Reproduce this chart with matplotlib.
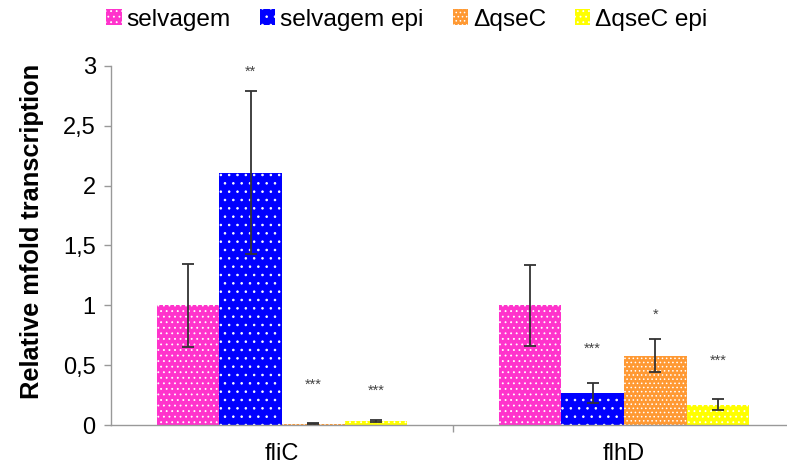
import matplotlib
matplotlib.use("Agg")
import matplotlib.pyplot as plt
from matplotlib.patches import Patch
import numpy as np

plt.rcParams['font.family'] = ['Liberation Sans', 'DejaVu Sans']
plt.rcParams['hatch.linewidth'] = 0.6

genes = ["fliC", "flhD"]
strains = ["selvagem", "selvagem epi", "\u0394qseC", "\u0394qseC epi"]

# values per strain: [fliC, flhD]
means = {
    "selvagem":       [1.00, 1.00],
    "selvagem epi":   [2.11, 0.265],
    "\u0394qseC":     [0.01, 0.58],
    "\u0394qseC epi": [0.035, 0.17],
}
errors = {
    "selvagem":       [0.345, 0.34],
    "selvagem epi":   [0.68, 0.085],
    "\u0394qseC":     [0.004, 0.135],
    "\u0394qseC epi": [0.008, 0.045],
}
stars = {
    "selvagem":       ["", ""],
    "selvagem epi":   ["**", "***"],
    "\u0394qseC":     ["***", "*"],
    "\u0394qseC epi": ["***", "***"],
}
star_y = {
    "selvagem":       [0, 0],
    "selvagem epi":   [2.95, 0.64],
    "\u0394qseC":     [0.34, 0.92],
    "\u0394qseC epi": [0.29, 0.54],
}

colors = ["#ff33cc", "#0000ff", "#ff9933", "#ffff00"]
hatches = ["...", "..", "....", "..."]

fig = plt.figure(figsize=(7.87, 4.69), dpi=100)
ax = fig.add_axes([111 / 787, 44 / 469, 684 / 787, 359 / 469])

x = np.arange(len(genes))
w = 0.183
for i, s in enumerate(strains):
    pos = x + (i - 1.5) * w
    ax.bar(pos, means[s], w, color=colors[i], edgecolor="white",
           linewidth=0, hatch=hatches[i], zorder=2)
    ax.errorbar(pos, means[s], yerr=errors[s], fmt="none", ecolor="#333333",
                elinewidth=1.3, capsize=4.5, capthick=1.3, zorder=3)
    for p, lab, yy in zip(pos, stars[s], star_y[s]):
        if lab:
            ax.text(p, yy, lab, ha="center", va="center", fontsize=10.5,
                    color="#444444")

ax.set_xlim(-0.5, 1.5)
ax.set_ylim(0, 3)
ax.set_yticks([0, 0.5, 1, 1.5, 2, 2.5, 3])
ax.set_yticklabels(["0", "0,5", "1", "1,5", "2", "2,5", "3"])
ax.set_xticks(x)
ax.set_xticklabels(genes)
ax.set_xticks([0.5], minor=True)
ax.tick_params(axis="x", which="major", length=0, pad=13, labelsize=17)
ax.tick_params(axis="x", which="minor", length=5, color="#999999", width=1)
ax.tick_params(axis="y", length=5, color="#999999", width=1, pad=6,
               labelsize=17)

for sp in ["top", "right"]:
    ax.spines[sp].set_visible(False)
for sp in ["left", "bottom"]:
    ax.spines[sp].set_color("#999999")
    ax.spines[sp].set_linewidth(1)

ax.set_ylabel("Relative mfold transcription", fontsize=18.3,
              fontweight="bold")
ax.yaxis.set_label_coords(-0.098, 0.54)

handles = [Patch(facecolor=colors[i], edgecolor="white", linewidth=0,
                 hatch=hatches[i], label=s) for i, s in enumerate(strains)]
fig.legend(handles=handles, loc="center", bbox_to_anchor=(407 / 787, 1 - 20 / 469),
           ncol=4, frameon=False, fontsize=17.6, handlelength=0.62,
           handleheight=0.62, handletextpad=0.2, columnspacing=1.2)

fig.savefig("out.png", dpi=100)
